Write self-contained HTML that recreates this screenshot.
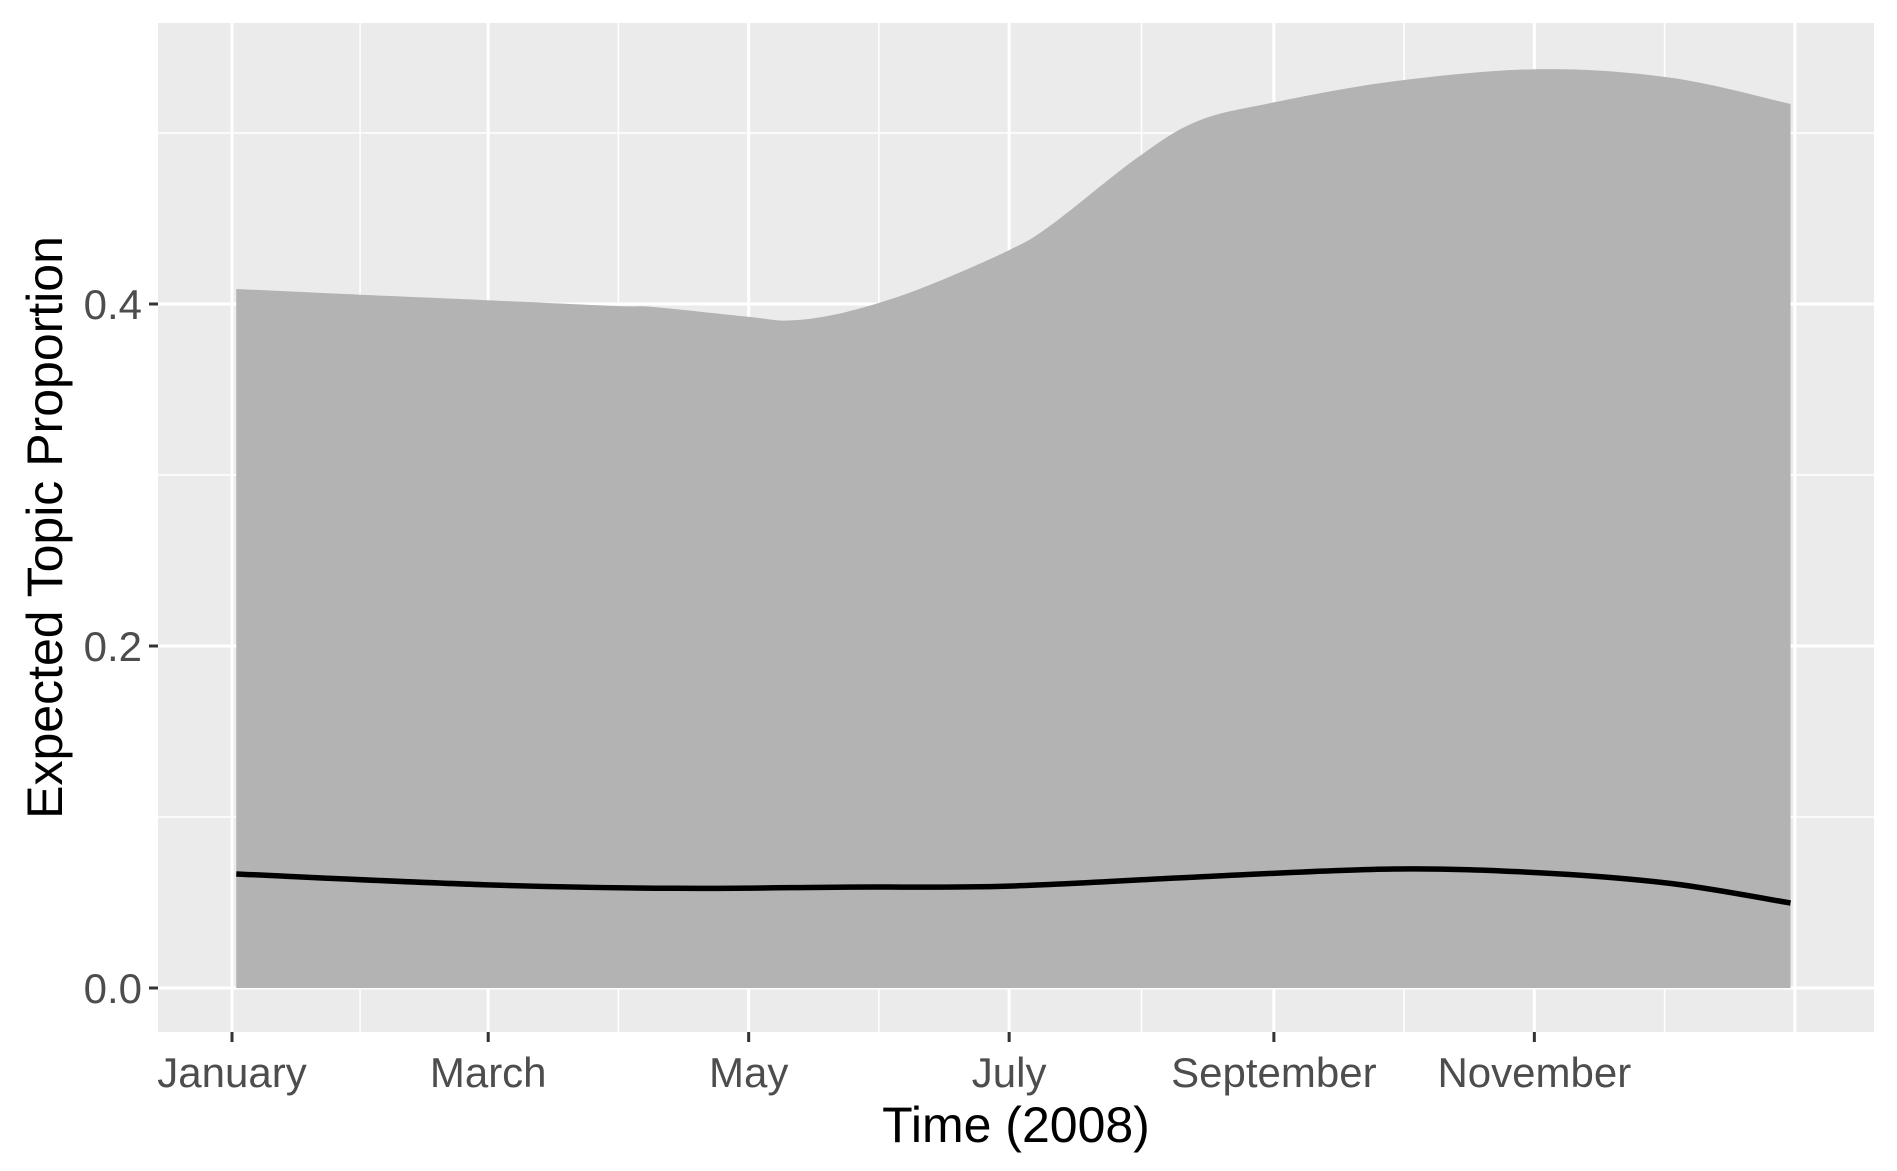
<!DOCTYPE html>
<html><head><meta charset="utf-8"><style>
html,body{margin:0;padding:0;background:#fff}
svg{display:block;font-family:"Liberation Sans",Arial,sans-serif}
</style></head><body>
<svg id="chart" width="1897" height="1171"></svg>
<script>
const upperDays=[1,31,59,90,99,121,131,144,161,182,192,212,226,243,272,306,337,365];
const upperVals=[0.4088,0.4053,0.4023,0.3988,0.3982,0.3925,0.3904,0.3954,0.4088,0.4315,0.4465,0.4855,0.5068,0.5174,0.5302,0.5373,0.5323,0.5170];
const meanDays=[1,59,104,144,182,229,272,306,337,365];
const meanVals=[0.0667,0.0604,0.0583,0.059,0.0596,0.0653,0.0696,0.0674,0.0611,0.0497];
const xTickDays=[0,60,121,182,244,305];
const xTickLabels=["January","March","May","July","September","November"];
const yTicks=[0,0.2,0.4];
const yTickLabels=["0.0","0.2","0.4"];

const NS="http://www.w3.org/2000/svg";
const svg=document.getElementById('chart');
const L=158,R=1874,T=23,B=1032;
const x=d=>232+d*4.27;
const y=v=>988-v*1710;
function mk(tag,attrs,parent){const e=document.createElementNS(NS,tag);for(const k in attrs)e.setAttribute(k,attrs[k]);(parent||svg).appendChild(e);return e;}
const panel=mk('rect',{x:L,y:T,width:R-L,height:B-T,fill:'#EBEBEB'});


[0.1,0.3,0.5].forEach(v=>{const l=mk('line',{x1:L,x2:R,y1:y(v),y2:y(v),stroke:'#fff','stroke-width':1.5});

});
const allMajor=xTickDays.concat([366]);
for(let i=0;i<allMajor.length-1;i++){const d=(allMajor[i]+allMajor[i+1])/2;const l=mk('line',{x1:x(d),x2:x(d),y1:T,y2:B,stroke:'#fff','stroke-width':1.5});

}
yTicks.forEach(v=>{const l=mk('line',{x1:L,x2:R,y1:y(v),y2:y(v),stroke:'#fff','stroke-width':3});

});
allMajor.forEach(d=>{const l=mk('line',{x1:x(d),x2:x(d),y1:T,y2:B,stroke:'#fff','stroke-width':3});

});
function smooth(pts){let s=`M${pts[0][0]},${pts[0][1]}`;for(let i=0;i<pts.length-1;i++){const p0=pts[Math.max(0,i-1)],p1=pts[i],p2=pts[i+1],p3=pts[Math.min(pts.length-1,i+2)];
const c1=[p1[0]+(p2[0]-p0[0])/6,p1[1]+(p2[1]-p0[1])/6],c2=[p2[0]-(p3[0]-p1[0])/6,p2[1]-(p3[1]-p1[1])/6];
s+=` C${c1[0]},${c1[1]} ${c2[0]},${c2[1]} ${p2[0]},${p2[1]}`;}return s;}
const up=upperDays.map((d,i)=>[x(d),y(upperVals[i])]);
const rib=mk('path',{d:smooth(up)+` L${x(upperDays[upperDays.length-1])},${y(0)} L${x(upperDays[0])},${y(0)} Z`,fill:'#B3B3B3'});


const mp=meanDays.map((d,i)=>[x(d),y(meanVals[i])]);
const ml=mk('path',{d:smooth(mp),fill:'none',stroke:'#000','stroke-width':5.5});


yTicks.forEach((v,i)=>{mk('line',{x1:L-9,x2:L,y1:y(v),y2:y(v),stroke:'#333','stroke-width':3});
const t=mk('text',{x:L-16,y:y(v)+15,'text-anchor':'end','font-size':42,fill:'#4D4D4D'});t.textContent=yTickLabels[i];

});
xTickDays.forEach((d,i)=>{mk('line',{x1:x(d),x2:x(d),y1:B,y2:B+10,stroke:'#333','stroke-width':3});
const t=mk('text',{x:x(d),y:1087,'text-anchor':'middle','font-size':42,fill:'#4D4D4D'});t.textContent=xTickLabels[i];

});
const xt=mk('text',{x:(L+R)/2,y:1142,'text-anchor':'middle','font-size':50,fill:'#000'});xt.textContent='Time (2008)';


const yt=mk('text',{x:0,y:0,'text-anchor':'middle','font-size':50,fill:'#000',transform:`translate(62,${(T+B)/2}) rotate(-90)`});yt.textContent='Expected Topic Proportion';


</script>
</body></html>
